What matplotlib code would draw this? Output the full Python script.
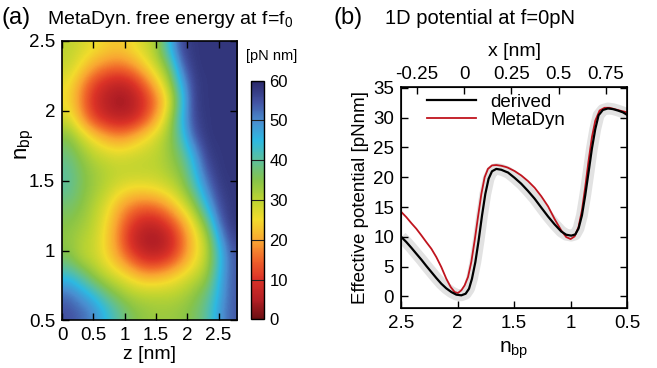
import numpy as np
import matplotlib
matplotlib.use("Agg")
import matplotlib.pyplot as plt
from matplotlib.colors import LinearSegmentedColormap

plt.rcParams['font.family'] = ['Liberation Sans', 'DejaVu Sans']
plt.rcParams['mathtext.fontset'] = 'custom'
plt.rcParams['mathtext.rm'] = 'Liberation Sans'
plt.rcParams['mathtext.it'] = 'Liberation Sans:italic'

# ---------------- data ----------------
# (a) free energy landscape [pN nm], rows from n_bp=2.4375 (top) to 0.5625 (bottom),
# columns z = 0.1 ... 2.7 nm
z_extent = [0.0, 2.8]
n_extent = [0.5, 2.5]
F_grid = [
    [30, 28, 26, 24, 23, 25, 28, 32, 44, 56, 58, 58, 58, 58],
    [29, 25, 20, 17, 16, 18, 23, 29, 36, 52, 58, 58, 58, 58],
    [26, 19, 12, 8, 6, 8, 14, 22, 31, 46, 57, 58, 58, 58],
    [25, 17, 9, 5, 3, 4, 9, 16, 26, 42, 57, 58, 58, 58],
    [28, 20, 12, 8, 6, 7, 12, 20, 30, 45, 56, 58, 58, 58],
    [35, 29, 24, 20, 18, 20, 24, 28, 33, 42, 54, 58, 58, 58],
    [38, 34, 30, 28, 27, 28, 29, 30, 33, 38, 47, 57, 58, 58],
    [40, 36, 33, 31, 30, 30, 30, 30, 32, 35, 44, 54, 58, 58],
    [40, 36, 33, 30, 27, 25, 25, 26, 28, 32, 40, 50, 57, 58],
    [37, 35, 31, 27, 21, 17, 15, 16, 20, 26, 33, 45, 55, 58],
    [35, 33, 30, 25, 18, 11, 7, 7, 11, 18, 26, 36, 52, 58],
    [34, 31, 29, 24, 17, 8, 4, 3, 6, 14, 23, 30, 46, 56],
    [36, 31, 29, 25, 20, 14, 9, 8, 11, 17, 24, 30, 43, 54],
    [44, 40, 34, 30, 27, 24, 21, 21, 23, 26, 29, 33, 45, 54],
    [52, 48, 44, 38, 34, 31, 30, 30, 30, 31, 34, 38, 46, 54],
    [55, 53, 50, 45, 40, 36, 34, 33, 33, 34, 36, 40, 48, 54],
]
cbar_ticks = [0, 10, 20, 30, 40, 50, 60]

# (b) 1D potential
n_der = [2.497, 2.453, 2.409, 2.365, 2.32, 2.276, 2.232, 2.188, 2.144, 2.10, 2.055,
         2.011, 1.967, 1.929, 1.899, 1.873, 1.843, 1.814, 1.784, 1.755, 1.726,
         1.696, 1.658, 1.614, 1.569, 1.555, 1.496, 1.437, 1.378, 1.319, 1.26, 1.2,
         1.143, 1.084, 1.04, 0.995, 0.96, 0.931, 0.901, 0.872, 0.842, 0.813,
         0.783, 0.754, 0.716, 0.6715, 0.627, 0.583, 0.539, 0.504]
E_der = [9.96, 9.12, 8.17, 7.17, 6.16, 5.10, 4.09, 3.08, 2.13, 1.35, 0.73,
         0.29, 0.18, 0.45, 1.29, 2.97, 5.77, 9.4, 13.6, 17.2, 19.75,
         21.0, 21.4, 21.26, 20.9, 20.8, 19.9, 18.9, 17.7, 16.4, 14.9, 13.4,
         12.1, 10.9, 10.35, 10.2, 10.4, 11.4, 13.6, 16.95, 20.9, 24.8,
         28.1, 30.4, 31.3, 31.55, 31.44, 31.2, 30.9, 30.5]
n_md = [2.497, 2.453, 2.409, 2.365, 2.32, 2.276, 2.232, 2.188, 2.144, 2.10, 2.061,
        2.026, 1.997, 1.967, 1.938, 1.908, 1.879, 1.849, 1.82, 1.79, 1.761, 1.732,
        1.696, 1.658, 1.614, 1.569, 1.555, 1.496, 1.437, 1.378, 1.319, 1.26, 1.2,
        1.143, 1.084, 1.04, 1.001, 0.966, 0.931, 0.901, 0.872, 0.842, 0.813,
        0.783, 0.745, 0.701, 0.657, 0.613, 0.568, 0.524, 0.504]
E_md = [14.16, 13.3, 12.3, 11.36, 10.24, 9.1, 8.0, 6.6, 4.93, 2.97, 1.57,
        0.73, 0.57, 1.02, 1.85, 3.25, 5.77, 9.4, 13.3, 17.2, 20.0, 21.4,
        21.99, 22.05, 21.93, 21.7, 21.6, 21.04, 20.3, 19.36, 18.24, 16.8, 15.1,
        13.0, 11.08, 9.96, 9.63, 10.07, 11.64, 14.44, 18.35, 22.8, 26.7,
        29.5, 31.2, 31.66, 31.66, 31.44, 31.2, 31.0, 30.9]
x_ticks_top = [-0.25, 0, 0.25, 0.5, 0.75]
x_ticklabels_top = ['-0.25', '0', '0.25', '0.5', '0.75']

# ---------------- style ----------------
cmap = LinearSegmentedColormap.from_list('fe', [
    (0.00, '#6a0f12'), (0.08, '#b31f25'), (0.17, '#dc3327'), (0.25, '#f0652a'),
    (0.33, '#f9a732'), (0.42, '#f2dc2c'), (0.50, '#bdd431'), (0.58, '#88c448'),
    (0.67, '#5bbf9e'), (0.75, '#2db9e2'), (0.83, '#4a8ed0'), (0.91, '#4353a3'),
    (1.00, '#2a2768')])

fig = plt.figure(figsize=(6.57, 3.68), dpi=100)

# ---------- panel (a) ----------
axa = fig.add_axes([0.0944, 0.1291, 0.2668, 0.7603])
im = axa.imshow(np.array(F_grid, dtype=float), cmap=cmap, vmin=0, vmax=60,
                extent=[z_extent[0], z_extent[1], n_extent[0], n_extent[1]],
                origin='upper', aspect='auto', interpolation='bicubic')
axa.set_xlim(z_extent)
axa.set_ylim(n_extent)
axa.set_xticks([0, 0.5, 1, 1.5, 2, 2.5])
axa.set_xticklabels(['0', '0.5', '1', '1.5', '2', '2.5'])
axa.set_yticks([0.5, 1, 1.5, 2, 2.5])
axa.set_yticklabels(['0.5', '1', '1.5', '2', '2.5'])
axa.tick_params(direction='in', top=True, right=True, length=5, width=1,
                labelsize=13.5, pad=5)
for s in axa.spines.values():
    s.set_linewidth(1.2)
axa.set_xlabel('z [nm]', fontsize=14, labelpad=1)
axa.set_ylabel(r'$\mathrm{n_{bp}}$', fontsize=16)
axa.yaxis.set_label_coords(-0.15, 0.63)

fig.text(0.003, 0.935, '(a)', fontsize=17, ha='left', va='baseline')
fig.text(0.071, 0.935, r'MetaDyn. free energy at f=f$_\mathrm{0}$', fontsize=14,
         ha='left', va='baseline')

cax = fig.add_axes([0.3816, 0.1323, 0.0202, 0.6484])
cb = fig.colorbar(im, cax=cax, ticks=cbar_ticks)
cb.outline.set_linewidth(1.0)
cax.tick_params(length=0, labelsize=12, pad=4)
cax.hlines(cbar_ticks[1:-1], 0, 1, colors='#222222', lw=0.8,
           transform=cax.get_yaxis_transform())
fig.text(0.414, 0.836, '[pN nm]', fontsize=10.5, ha='center', va='baseline')

# ---------- panel (b) ----------
axb = fig.add_axes([0.6104, 0.1622, 0.3444, 0.6022])
axb.plot(n_der, E_der, color='#e2e2e2', lw=8.5, solid_capstyle='butt',
         solid_joinstyle='round', zorder=1)
axb.plot(n_der, E_der, color='black', lw=1.6, label='derived', zorder=3)
axb.plot(n_md, E_md, color='#c0141e', lw=1.3, label='MetaDyn', zorder=2)
axb.set_xlim(2.5, 0.5)
axb.set_ylim(-2, 35.2)
axb.set_xticks([2.5, 2, 1.5, 1, 0.5])
axb.set_xticklabels(['2.5', '2', '1.5', '1', '0.5'])
axb.set_yticks([0, 5, 10, 15, 20, 25, 30, 35])
axb.tick_params(direction='in', right=True, length=5, width=1,
                labelsize=13.5, pad=5)
for s in axb.spines.values():
    s.set_linewidth(1.2)
axb.set_xlabel(r'$\mathrm{n_{bp}}$', fontsize=15, labelpad=5)
axb.set_ylabel('Effective potential [pNnm]', fontsize=13.5, labelpad=3)
leg = axb.legend(loc='upper left', bbox_to_anchor=(0.04, 1.045), frameon=False,
                 fontsize=13.5, handlelength=2.6, handletextpad=0.8,
                 labelspacing=0.05)

axt = axb.twiny()
axt.set_xlim(-0.333, 0.863)
axt.set_xticks(x_ticks_top)
axt.set_xticklabels(x_ticklabels_top)
axt.tick_params(direction='in', length=5, width=1, labelsize=13.5, pad=3)
axt.set_xlabel('x [nm]', fontsize=14, labelpad=7)

fig.text(0.507, 0.935, '(b)', fontsize=17, ha='left', va='baseline')
fig.text(0.586, 0.935, '1D potential at f=0pN', fontsize=14.5, ha='left',
         va='baseline')

fig.savefig('out.png', dpi=100)
